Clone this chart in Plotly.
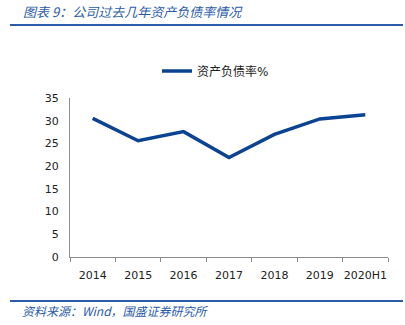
import plotly.graph_objects as go

years = ["2014", "2015", "2016", "2017", "2018", "2019", "2020H1"]
debt_ratio = [30.5, 25.6, 27.6, 21.9, 27.0, 30.4, 31.3]
y_ticks = [0, 5, 10, 15, 20, 25, 30, 35]

blue = "#0B4393"
text_blue = "#2A5CAA"

fig = go.Figure()
fig.add_trace(go.Scatter(
    x=years, y=debt_ratio, mode="lines", name="资产负债率%",
    line=dict(color=blue, width=3.5),
))

fig.update_layout(
    width=405, height=325,
    margin=dict(l=70, r=17, t=98, b=68),
    paper_bgcolor="white", plot_bgcolor="white",
    font=dict(family="DejaVu Sans, Noto Sans CJK SC", size=11, color="#222"),
    showlegend=True,
    legend=dict(orientation="h", x=(157-70)/318, xanchor="left", y=(325-68-71)/159, yanchor="middle",
                font=dict(family="DejaVu Sans, Noto Sans CJK SC", size=12, color="#222"),
                bgcolor="rgba(0,0,0,0)"),
    xaxis=dict(
        type="category", range=[-0.5, 6.5], showgrid=False, showline=True,
        linecolor="#8c8c8c", linewidth=1,
        ticks="outside", tickson="boundaries", ticklen=4, tickcolor="#8c8c8c",
        ticklabelstandoff=8, tickangle=0,
        tickfont=dict(size=11, color="#222"), fixedrange=True,
    ),
    yaxis=dict(
        range=[0, 35], tickvals=y_ticks, showgrid=False, zeroline=False,
        showline=True, linecolor="#8c8c8c", linewidth=1, ticks="",
        ticklabelstandoff=8,
        tickfont=dict(size=11, color="#222"), fixedrange=True,
    ),
    shapes=[
        dict(type="line", xref="paper", yref="paper", x0=-60/318, x1=(403-70)/318,
             y0=(325-68-25)/159, y1=(325-68-25)/159,
             line=dict(color="#2A5CAA", width=2)),
        dict(type="line", xref="paper", yref="paper", x0=-60/318, x1=(403-70)/318,
             y0=(325-68-301)/159, y1=(325-68-301)/159,
             line=dict(color="#2A5CAA", width=2)),
    ],
    annotations=[
        dict(text="<i>图表 9：公司过去几年资产负债率情况</i>", xref="paper", yref="paper",
             x=-49/318, y=(325-68-12)/159, xanchor="left", yanchor="middle", showarrow=False,
             font=dict(family="Noto Sans CJK SC", size=13, color=text_blue)),
        dict(text="<i>资料来源：Wind，国盛证券研究所</i>", xref="paper", yref="paper",
             x=-50/318, y=(325-68-310)/159, xanchor="left", yanchor="middle", showarrow=False,
             font=dict(family="Noto Sans CJK SC", size=12, color=text_blue)),
    ],
)

fig.write_html("out.html")
